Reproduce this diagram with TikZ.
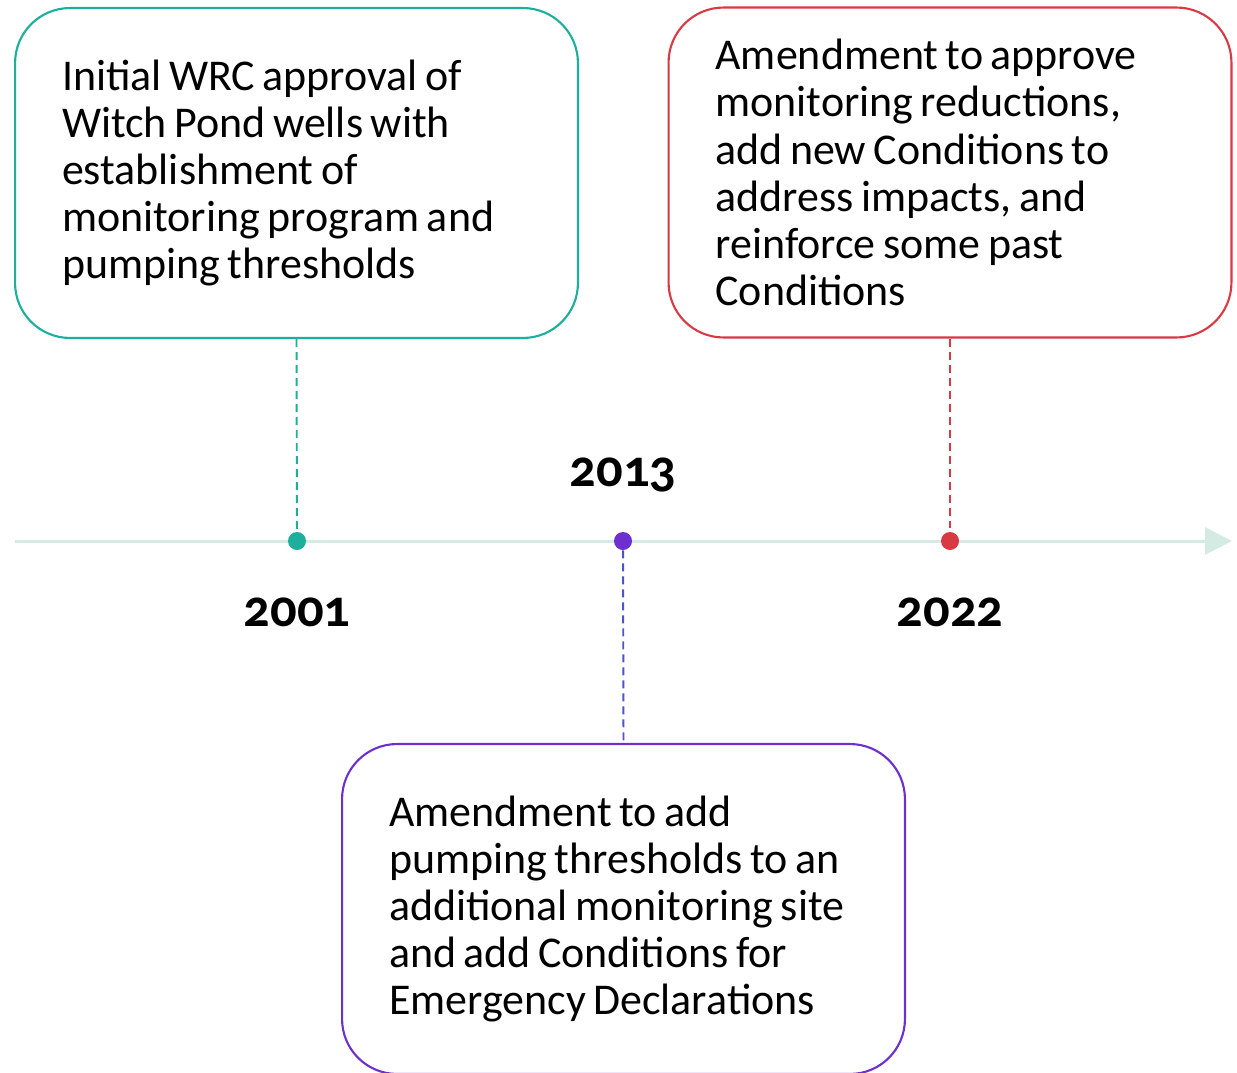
\documentclass[tikz,border=0pt]{standalone}
\usepackage{fontspec}
\setmainfont{Carlito}[Numbers=OldStyle]
\usetikzlibrary{calc,arrows.meta}
\definecolor{wpteal}{HTML}{1DAF9C}
\definecolor{wpred}{HTML}{D83A44}
\definecolor{wppurple}{HTML}{6E2FCF}
\definecolor{wpblue}{HTML}{4A55C8}
\definecolor{wpline}{HTML}{D4EBE3}

\tikzset{
  event/.style={draw, line width=1.2pt, rounded corners=1.1cm, minimum width=11.26cm,
    minimum height=6.6cm, text width=9.38cm, align=left, inner xsep=0.94cm,
    font=\fontsize{25}{26.8}\selectfont,
    execute at begin node={\spaceskip=0.17em\relax}},
  dot/.style={circle, fill, inner sep=0pt, minimum size=0.36cm},
  year/.style={font=\bfseries\fontsize{30}{30}\selectfont},
  link/.style={line width=1.1pt, dash pattern=on 0.16cm off 0.1cm}
}

\begin{document}
\begin{tikzpicture}[x=0.02cm,y=-0.02cm]
\useasboundingbox (0,0) rectangle (1237,1072);
\clip (0,0) rectangle (1237,1072);

% timeline
\coordinate (t0) at (15,541);
\coordinate (t1) at (1232,541);
\draw [wpline, line width=1.7pt, -{Triangle[length=0.54cm, width=0.54cm]}] (t0) -- (t1);

\node [dot, wpteal] (d01) at (297,541) {};
\node [dot, wppurple] (d13) at (623,541) {};
\node [dot, wpred] (d22) at (950,541) {};

\node [event, wpteal, text=black] (e01) at (296.5,173) {Initial WRC approval of\\Witch Pond wells with\\establishment of\\monitoring program and\\pumping thresholds};
\node [event, wpred, text=black] (e22) at (950,172.5) {Amendment to approve\\monitoring reductions,\\add new Conditions to\\address impacts, and\\reinforce some past\\Conditions};
\node [event, wppurple, text=black] (e13) at (623.5,909) {Amendment to add\\pumping thresholds to an\\additional monitoring site\\and add Conditions for\\Emergency Declarations};

\draw [link, wpteal] (e01.south) -- (d01);
\draw [link, wpred] (e22.south) -- (d22);
\draw [link, wpblue] (d13) -- (e13.north);

\node [year] (y01) at (297,612) {2001};
\node [year] (y13) at (623,475) {2013};
\node [year] (y22) at (950,612) {2022};
\end{tikzpicture}
\end{document}
